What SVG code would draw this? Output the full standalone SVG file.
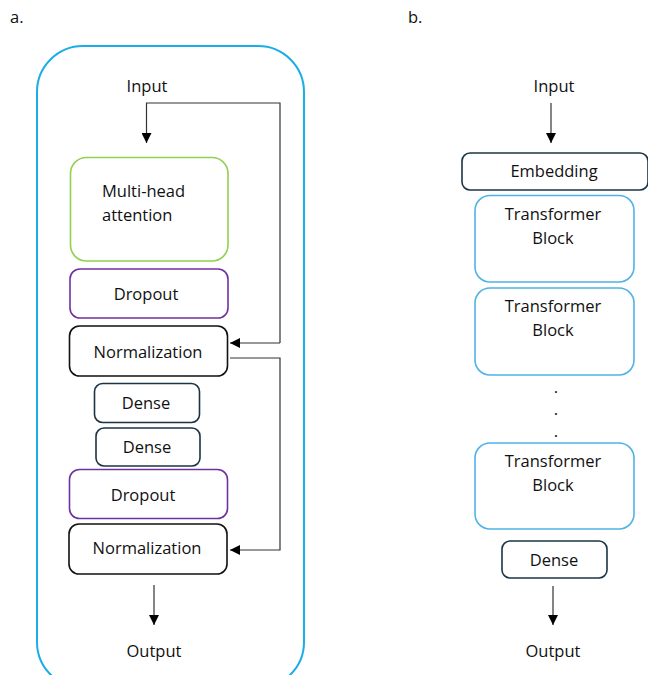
<svg xmlns="http://www.w3.org/2000/svg" width="648" height="675" viewBox="0 0 648 675">
<style>
text{font-family:"Open Sans","Liberation Sans",sans-serif;font-size:16.5px;fill:#111}
.c{text-anchor:middle}
.box{fill:#fff;stroke-width:1.6}
.green{stroke:#92d050}
.purple{stroke:#7030a0}
.black{stroke:#111}
.slate{stroke:#1b3445}
.blue{stroke:#4fb3e6}
.ln{fill:none;stroke:#333;stroke-width:1.2}
</style>
<defs>
<marker id="ah" viewBox="0 0 10 10" refX="10" refY="5" markerWidth="10" markerHeight="10" markerUnits="userSpaceOnUse" orient="auto">
<path d="M0,0 L10,5 L0,10 z" fill="#000"/>
</marker>
</defs>
<rect width="648" height="675" fill="#fff"/>
<text x="10" y="23">a.</text>
<text x="408" y="23">b.</text>
<g id="outer"><rect x="37" y="46" width="267" height="642" rx="46" fill="none" stroke="#1aaee8" stroke-width="2"/></g>
<g id="a-input"><text class="c" x="147" y="92">Input</text></g>
<g id="mha"><rect class="box green" x="70.5" y="157.5" width="157.5" height="103.5" rx="16"/><text x="102" y="197">Multi-head</text><text x="102" y="221">attention</text></g>
<g id="dropout1"><rect class="box purple" x="70" y="269" width="158" height="49" rx="10"/><text class="c" x="146" y="300">Dropout</text></g>
<g id="norm1"><rect class="box black" x="69.5" y="326" width="158" height="50" rx="10"/><text class="c" x="148" y="358">Normalization</text></g>
<g id="dense1"><rect class="box slate" x="94.5" y="383.5" width="105" height="39" rx="8"/><text class="c" x="146" y="409">Dense</text></g>
<g id="dense2"><rect class="box slate" x="96" y="428" width="104" height="38" rx="8"/><text class="c" x="147" y="453">Dense</text></g>
<g id="dropout2"><rect class="box purple" x="69.5" y="469.5" width="158" height="49" rx="10"/><text class="c" x="143" y="501">Dropout</text></g>
<g id="norm2"><rect class="box black" x="69" y="524" width="158" height="50" rx="10"/><text class="c" x="147" y="554">Normalization</text></g>
<g id="a-output"><text class="c" x="154" y="657">Output</text></g>
<g id="b-input"><text class="c" x="554" y="92">Input</text></g>
<g id="embedding"><rect class="box slate" x="462" y="153" width="186" height="37" rx="8"/><text class="c" x="554" y="177">Embedding</text></g>
<g id="tb1"><rect class="box blue" x="475" y="195.5" width="159" height="86.5" rx="15"/><text class="c" x="553" y="220">Transformer</text><text class="c" x="553" y="244">Block</text></g>
<g id="tb2"><rect class="box blue" x="475" y="288" width="159" height="87" rx="15"/><text class="c" x="553" y="312">Transformer</text><text class="c" x="553" y="336">Block</text></g>
<g id="dots"><text class="c" x="556" y="393">.</text><text class="c" x="556" y="415">.</text><text class="c" x="556" y="437">.</text></g>
<g id="tb3"><rect class="box blue" x="475" y="443" width="159" height="86" rx="15"/><text class="c" x="553" y="467">Transformer</text><text class="c" x="553" y="491">Block</text></g>
<g id="b-dense"><rect class="box slate" x="502" y="541" width="105" height="37" rx="8"/><text class="c" x="554" y="566">Dense</text></g>
<g id="b-output"><text class="c" x="553" y="657">Output</text></g>
<g id="connectors">
<path class="ln" d="M280,343 V103 H146.5 V143" marker-end="url(#ah)"/>
<path class="ln" d="M280,343 H230" marker-end="url(#ah)"/>
<path class="ln" d="M230,358 H280 V550 H230" marker-end="url(#ah)"/>
<path class="ln" d="M154,585 V625" marker-end="url(#ah)"/>
<path class="ln" d="M551,103 V143" marker-end="url(#ah)"/>
<path class="ln" d="M553,586 V625" marker-end="url(#ah)"/>
</g>
</svg>
